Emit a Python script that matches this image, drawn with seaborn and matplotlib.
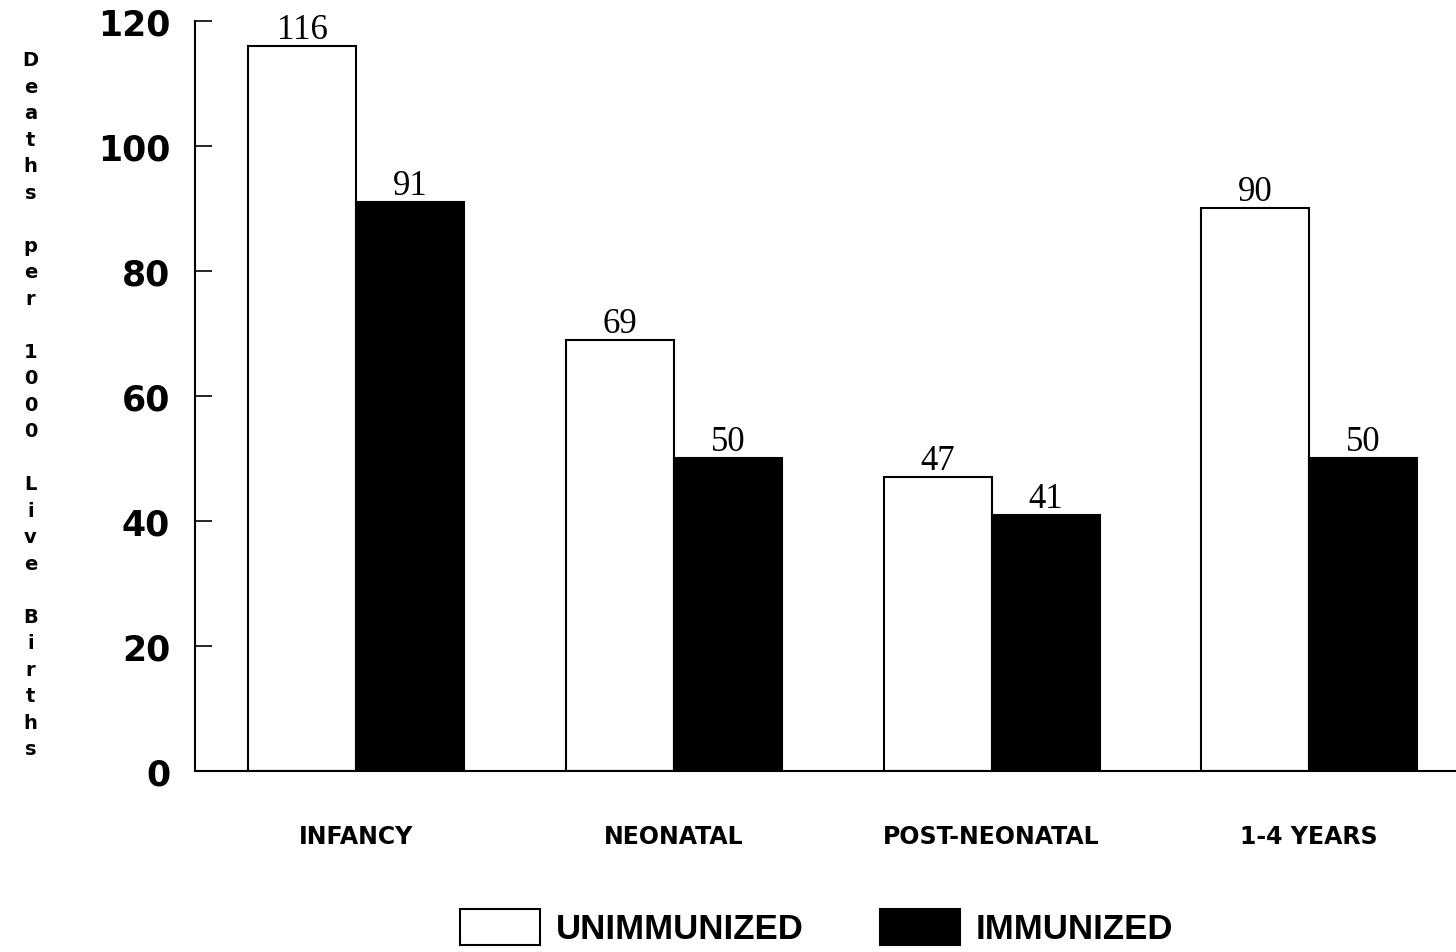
import matplotlib
matplotlib.use("Agg")
import matplotlib.pyplot as plt
import seaborn as sns
import pandas as pd

# data
categories = ["INFANCY", "NEONATAL", "POST-NEONATAL", "1-4 YEARS"]
unimmunized = [116, 69, 47, 90]
immunized = [91, 50, 41, 50]
series_names = ["UNIMMUNIZED", "IMMUNIZED"]
y_ticks = [0, 20, 40, 60, 80, 100, 120]
y_label = "Deaths per 1000 Live Births"

sns.set_style("white")
plt.rcParams['font.family'] = ['DejaVu Sans']
plt.rcParams['text.color'] = 'black'
plt.rcParams['xtick.color'] = 'black'
plt.rcParams['ytick.color'] = 'black'

df = pd.DataFrame({
    "cat": categories * 2,
    "val": unimmunized + immunized,
    "grp": [series_names[0]] * 4 + [series_names[1]] * 4,
})

fig = plt.figure(figsize=(14.56, 9.53), dpi=100)
ax = fig.add_axes([0.134, 0.19, 0.866, 0.787])

sns.barplot(data=df, x="cat", y="val", hue="grp", ax=ax,
            palette={"UNIMMUNIZED": "white", "IMMUNIZED": "black"},
            edgecolor="black", linewidth=1.5, width=0.68, saturation=1,
            legend=True)

# value labels over bars
for cont in ax.containers:
    ax.bar_label(cont, fmt="%d", padding=0, fontsize=25, color="black",
                 family="Liberation Serif")

ax.set_xlim(-0.507, 3.462)
ax.set_ylim(0, 120)
ax.set_yticks(y_ticks)
ax.set_yticklabels([str(t) for t in y_ticks], fontsize=25, fontweight="bold")
ax.set_xticks(range(len(categories)))
ax.set_xticklabels(categories, fontsize=17, fontweight="bold")
ax.tick_params(axis="y", direction="in", length=12, width=1.2, pad=18, left=True)
ax.tick_params(axis="x", length=0, pad=38)
ax.set_xlabel("")
ax.set_ylabel("")
for s in ["top", "right"]:
    ax.spines[s].set_visible(False)
for s in ["left", "bottom"]:
    ax.spines[s].set_linewidth(1.5)
    ax.spines[s].set_color("black")

# stacked vertical y-axis label
fig.text(0.021, 0.575, "\n".join(y_label), ha="center", va="center",
         fontsize=14, fontweight="bold", linespacing=1.5)

handles, labels = ax.get_legend_handles_labels()
ax.legend_.remove()
fig.legend(handles, labels, loc="center", bbox_to_anchor=(0.561, 0.026),
           ncol=2, frameon=False, handlelength=2.3,
           handleheight=1.2, handletextpad=0.45, columnspacing=2.2,
           prop={"family": "Liberation Sans", "size": 25, "weight": "bold"})

fig.savefig("out.png", dpi=100, facecolor="white")
